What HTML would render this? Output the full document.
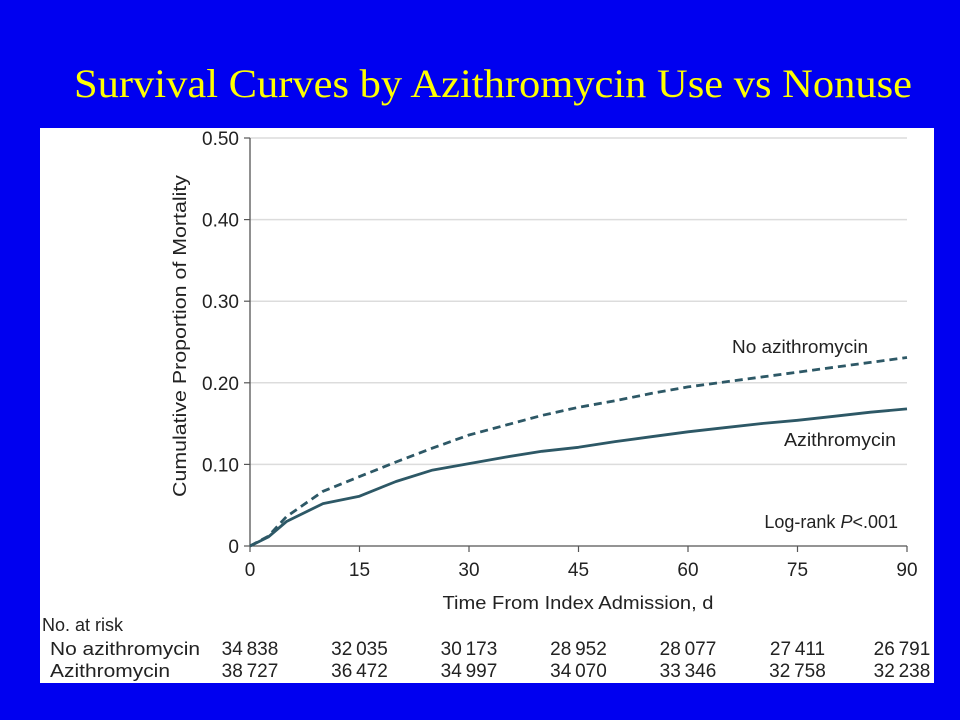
<!DOCTYPE html>
<html><head><meta charset="utf-8"><style>
html,body{margin:0;padding:0;background:#0000f0;}
svg{display:block;}
text{font-family:"Liberation Sans","DejaVu Sans",sans-serif;}
</style></head><body>
<svg id="c" width="960" height="720" viewBox="0 0 960 720">
<rect x="0" y="0" width="960" height="720" fill="#0000f0"/>
<text x="493" y="97" text-anchor="middle" fill="#ffff00" font-size="40" style="font-family:'Liberation Serif',serif" textLength="838" lengthAdjust="spacingAndGlyphs">Survival Curves by Azithromycin Use vs Nonuse</text>
<rect x="40" y="128" width="894" height="555" fill="#ffffff"/>
<g id="grid"></g>
<g id="axes"></g>
<g id="series"></g>
<text x="186" y="336" transform="rotate(-90 186 336)" text-anchor="middle" font-size="18" fill="#222" textLength="322" lengthAdjust="spacingAndGlyphs">Cumulative Proportion of Mortality</text>
<text x="578" y="609" text-anchor="middle" font-size="18" fill="#222" textLength="271" lengthAdjust="spacingAndGlyphs">Time From Index Admission, d</text>
<text x="868" y="353" text-anchor="end" font-size="18" fill="#222" textLength="136" lengthAdjust="spacingAndGlyphs">No azithromycin</text>
<text x="896" y="446" text-anchor="end" font-size="18" fill="#222" textLength="112" lengthAdjust="spacingAndGlyphs">Azithromycin</text>
<text x="898" y="528" text-anchor="end" font-size="18" fill="#222">Log-rank <tspan font-style="italic">P</tspan>&lt;.001</text>
<text x="42" y="631" font-size="18" fill="#222">No. at risk</text>
<text x="50" y="655" font-size="18" fill="#222" textLength="150" lengthAdjust="spacingAndGlyphs">No azithromycin</text>
<text x="50" y="677" font-size="18" fill="#222" textLength="120" lengthAdjust="spacingAndGlyphs">Azithromycin</text>
<g id="risk"></g>
</svg>
<script>
const days = [0, 2.5, 5, 10, 15, 20, 25, 30, 35, 40, 45, 50, 55, 60, 65, 70, 75, 80, 85, 90];
const noAzithro = [0, 0.012, 0.036, 0.067, 0.085, 0.103, 0.120, 0.136, 0.148, 0.160, 0.170, 0.178, 0.187, 0.195, 0.201, 0.207, 0.213, 0.219, 0.225, 0.231];
const azithro = [0, 0.011, 0.030, 0.052, 0.061, 0.079, 0.093, 0.101, 0.109, 0.116, 0.121, 0.128, 0.134, 0.140, 0.145, 0.150, 0.154, 0.159, 0.164, 0.168];
const xTicks = [0, 15, 30, 45, 60, 75, 90];
const yTicks = [0, 0.1, 0.2, 0.3, 0.4, 0.5];
const yTickLabels = ["0", "0.10", "0.20", "0.30", "0.40", "0.50"];
const riskNo = ["34\u2009838", "32\u2009035", "30\u2009173", "28\u2009952", "28\u2009077", "27\u2009411", "26\u2009791"];
const riskAz = ["38\u2009727", "36\u2009472", "34\u2009997", "34\u2009070", "33\u2009346", "32\u2009758", "32\u2009238"];

const NS = "http://www.w3.org/2000/svg";
const X0 = 250, X1 = 907, Y0 = 546, Y1 = 138;
function xs(d){ return X0 + (d / 90) * (X1 - X0); }
function ys(v){ return Y0 - (v / 0.5) * (Y0 - Y1); }
function mk(tag, attrs, parent){ const e = document.createElementNS(NS, tag); for (const k in attrs) e.setAttribute(k, attrs[k]); parent.appendChild(e); return e; }
const grid = document.getElementById('grid'), axes = document.getElementById('axes'), series = document.getElementById('series'), risk = document.getElementById('risk');

yTicks.forEach((v, i) => {
  if (i > 0) {
    const g = mk('line', {x1: X0, x2: X1, y1: ys(v), y2: ys(v), stroke: '#dcdcdc', 'stroke-width': 1.5}, grid);
    
    
  }
  const t = mk('line', {x1: X0 - 6, x2: X0, y1: ys(v), y2: ys(v), stroke: '#555', 'stroke-width': 1.2}, axes);
  
  
  const l = mk('text', {x: X0 - 11, y: ys(v) + 7, 'text-anchor': 'end', 'font-size': 19, fill: '#222'}, axes);
  l.textContent = yTickLabels[i];
  
  
});
const ya = mk('line', {x1: X0, x2: X0, y1: Y1, y2: Y0, stroke: '#555', 'stroke-width': 1.3}, axes);


const xa = mk('line', {x1: X0, x2: X1, y1: Y0, y2: Y0, stroke: '#555', 'stroke-width': 1.3}, axes);


xTicks.forEach((d, i) => {
  const t = mk('line', {x1: xs(d), x2: xs(d), y1: Y0, y2: Y0 + 6, stroke: '#555', 'stroke-width': 1.2}, axes);
  
  
  const l = mk('text', {x: xs(d), y: 576, 'text-anchor': 'middle', 'font-size': 19, fill: '#222'}, axes);
  l.textContent = String(d);
  
  
  const cx = Math.min(xs(d), 902);
  const a = mk('text', {x: cx, y: 655, 'text-anchor': 'middle', 'font-size': 19, fill: '#222'}, risk);
  a.textContent = riskNo[i];
  
  
  const b = mk('text', {x: cx, y: 677, 'text-anchor': 'middle', 'font-size': 19, fill: '#222'}, risk);
  b.textContent = riskAz[i];
  
  
});
function path(vals){ return vals.map((v, i) => (i ? 'L' : 'M') + xs(days[i]).toFixed(1) + ' ' + ys(v).toFixed(1)).join(' '); }
const p1 = mk('path', {d: path(noAzithro), fill: 'none', stroke: '#2d5866', 'stroke-width': 2.8, 'stroke-dasharray': '8 5', 'stroke-linejoin': 'round'}, series);


const p2 = mk('path', {d: path(azithro), fill: 'none', stroke: '#2d5866', 'stroke-width': 2.8, 'stroke-linejoin': 'round'}, series);


</script>
</body></html>
